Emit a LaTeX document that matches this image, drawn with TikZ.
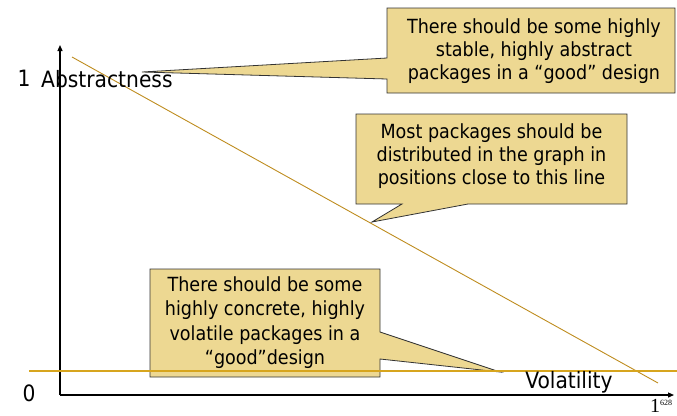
\documentclass[tikz,border=0pt]{standalone}
\usepackage{fontspec}
\setmainfont{DejaVu Sans Condensed}
\newfontfamily\serifnum{Liberation Serif}
\usetikzlibrary{arrows.meta}
\definecolor{calloutfill}{RGB}{237,216,146}
\definecolor{diagcol}{RGB}{190,140,30}
\definecolor{hlinecol}{RGB}{215,165,30}
\tikzset{
  callout/.style={fill=calloutfill, draw=black!80, line width=0.8pt, line join=miter},
  callouttext/.style={align=center, inner sep=0pt, font=\fontsize{19.5}{23.3}\selectfont},
  axis/.style={line width=1.2pt, -{Triangle[length=6pt,width=5pt]}},
  axislabel/.style={inner sep=0pt, font=\fontsize{22.5}{26}\selectfont}
}
\begin{document}
\begin{tikzpicture}[x=1pt,y=-1pt]
\useasboundingbox (0,0) rectangle (677,415);
% axes
\coordinate (origin) at (60,395);
\coordinate (ytop) at (60,45);
\coordinate (xtop) at (674,395);
\draw[axis] (origin) -- (ytop);
\draw[axis] (origin) -- (xtop);
% callout 1
\coordinate (t1) at (142,72);
\draw[callout] (387,8) -- (675,8) -- (675,93) -- (387,93) -- (387,79) -- (t1) -- (387,58) -- cycle;
\node[callouttext] (c1) at (534,51) {There should be some highly\\stable, highly abstract\\packages in a “good” design};
% callout 2
\coordinate (t2) at (372,222);
\draw[callout] (356,114) -- (627,114) -- (627,204) -- (468,204) -- (t2) -- (402,204) -- (356,204) -- cycle;
\node[callouttext] (c2) at (491.5,156) {Most packages should be\\distributed in the graph in\\positions close to this line};
% callout 3
\coordinate (t3) at (500,372);
\draw[callout] (150,269) -- (380,269) -- (380,332) -- (t3) -- (380,359) -- (380,377) -- (150,377) -- cycle;
\node[callouttext, font=\fontsize{19.5}{24.3}\selectfont] (c3) at (265,322.5) {There should be some\\highly concrete, highly\\volatile packages in a\\“good”design};
% lines
\coordinate (d1) at (72,57);
\coordinate (d2) at (658,383);
\draw[diagcol, line width=0.9pt] (d1) -- (d2);
\coordinate (h1) at (29,371);
\coordinate (h2) at (677,371);
\draw[hlinecol, line width=1.1pt] (h1) -- (h2);
% labels
\node[axislabel] (one) at (24,78) {1};
\node[axislabel, anchor=west] (abs) at (41,79) {Abstractness};
\node[axislabel] (zero) at (29,393) {0};
\node[axislabel] (vol) at (569,382) {Volatility};
\node[inner sep=0pt, anchor=base west, font=\serifnum\fontsize{20}{22}\selectfont] (pg) at (650,412) {1\raisebox{7pt}{\fontsize{8}{9}\selectfont 628}};
\end{tikzpicture}
\end{document}
